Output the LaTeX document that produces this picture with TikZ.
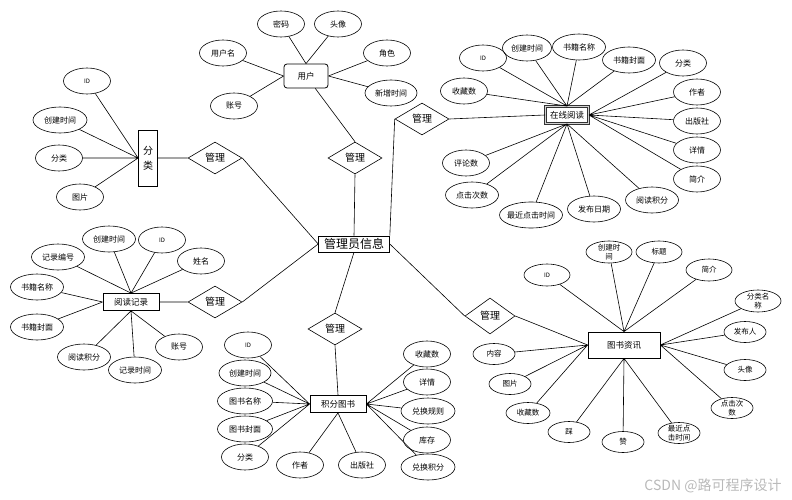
\documentclass[tikz,border=0pt]{standalone}
\usepackage{fontspec}
\setmainfont{Noto Sans CJK SC}
\usetikzlibrary{shapes.geometric}

\tikzset{attribut/.style={draw,ellipse,minimum width=47pt,minimum height=26pt,inner xsep=-4pt,inner ysep=0pt,align=center,font=\fontsize{8}{9}\selectfont},
large/.style={minimum width=53pt},
petit/.style={attribut,minimum width=46pt,minimum height=22pt,inner ysep=-2pt,font=\fontsize{7.5}{8.5}\selectfont},
mini/.style={petit,minimum width=42pt,minimum height=21pt},
ident/.style={font=\fontsize{6}{7}\selectfont},
entite/.style={draw,thick,minimum width=56pt,minimum height=17pt,inner sep=1pt,font=\fontsize{8.5}{9}\selectfont},
relation/.style={draw,diamond,aspect=1.7,minimum width=54pt,minimum height=32pt,inner sep=0pt,font=\fontsize{10}{11}\selectfont}}

\begin{document}
\begin{tikzpicture}[x=1pt,y=-1pt,line width=0.6pt]
\useasboundingbox (0,0) rectangle (792,500);
\node [draw,minimum width=71pt,minimum height=16pt,inner sep=0pt,font=\fontsize{12}{13}\selectfont] (admin) at (354,244) {管理员信息};

% utilisateur
\node [entite,rounded corners=3pt,minimum width=44pt,minimum height=24pt] (user) at (306,76) {用户};
\node [attribut] (uMdp) at (281,24) {密码};
\node [attribut] (uTete) at (338,24) {头像};
\node [attribut] (uNom) at (223,53) {用户名};
\node [attribut] (uRole) at (387,53) {角色};
\node [attribut,minimum width=52pt] (uDate) at (391,93) {新增时间};
\node [attribut] (uCompte) at (234,106) {账号};
\node [relation] (gUser) at (355,158) {管理};
\draw (uMdp) -- (user.north) (uTete) -- (user.north)
	(uNom) -- (user.west) (uCompte) -- (user.west)
	(uRole) -- (user.east) (uDate) -- (user.east);
\draw (user) -- (gUser.north) (gUser.south) -- (admin.north);

% lecture en ligne
\node [entite,draw=black!80,double=gray!35,double distance=0.8pt,minimum width=43pt] (lire) at (567,115) {在线阅读};
\node [attribut,ident] (lId) at (483,58) {ID};
\node [attribut,minimum width=49pt] (lCree) at (527,48) {创建时间};
\node [attribut,large] (lNom) at (579,47) {书籍名称};
\node [attribut,large] (lCouv) at (629,60) {书籍封面};
\node [attribut] (lCat) at (683,63) {分类};
\node [attribut] (lAuteur) at (697,92) {作者};
\node [attribut] (lEditeur) at (697,121) {出版社};
\node [attribut] (lDetail) at (697,150) {详情};
\node [attribut] (lIntro) at (697,179) {简介};
\node [attribut,large] (lPoints) at (652,200) {阅读积分};
\node [attribut,large] (lDate) at (594,209) {发布日期};
\node [attribut,minimum width=63pt] (lClic) at (531,215) {最近点击时间};
\node [attribut,large] (lNbClic) at (472,195) {点击次数};
\node [attribut] (lAvis) at (466,163) {评论数};
\node [attribut] (lFav) at (464,91) {收藏数};
\node [relation] (gLire) at (422,119) {管理};
\draw (lId) -- (lire.north) (lCree) -- (lire.north) (lNom) -- (lire.north)
	(lCouv) -- (lire.north) (lFav) -- (lire.north);
\draw (lCat) -- (lire.east) (lAuteur) -- (lire.east) (lEditeur) -- (lire.east)
	(lDetail) -- (lire.east) (lIntro) -- (lire.east);
\draw (lPoints) -- (lire.south) (lDate) -- (lire.south) (lClic) -- (lire.south)
	(lNbClic) -- (lire.south) (lAvis) -- (lire.south);
\draw (admin.north east) -- (gLire.west) (gLire.east) -- (lire.west);

% classement
\node [entite,minimum width=19pt,minimum height=56pt,inner sep=0pt,align=center,font=\fontsize{10}{15}\selectfont] (cat) at (148,158) {分\\类};
\node [attribut,ident] (cId) at (87,81) {ID};
\node [attribut,minimum width=54pt] (cCree) at (60,120) {创建时间};
\node [attribut] (cNom) at (59,158) {分类};
\node [attribut] (cImage) at (80,197) {图片};
\node [relation] (gCat) at (215,158) {管理};
\draw (cId) -- (cat.west) (cCree) -- (cat.west) (cNom) -- (cat.west) (cImage) -- (cat.west);
\draw (cat.east) -- (gCat.west) (gCat.east) -- (admin.west);

% releve de lecture
\node [entite] (rec) at (131,302) {阅读记录};
\node [attribut,large] (rNum) at (58,257) {记录编号};
\node [attribut,large] (rCree) at (109,239) {创建时间};
\node [attribut,ident] (rId) at (162,240) {ID};
\node [attribut] (rNom) at (201,261) {姓名};
\node [attribut,large] (rLivre) at (37,287) {书籍名称};
\node [attribut,large] (rCouv) at (37,327) {书籍封面};
\node [attribut,large] (rPoints) at (84,357) {阅读积分};
\node [attribut,large] (rDate) at (135,370) {记录时间};
\node [attribut] (rCompte) at (179,347) {账号};
\node [relation] (gRec) at (215,302) {管理};
\draw (rNum) -- (rec.north) (rCree) -- (rec.north) (rId) -- (rec.north) (rNom) -- (rec.north);
\draw (rLivre) -- (rec.west) (rCouv) -- (rec.west);
\draw (rPoints) -- (rec.south) (rDate) -- (rec.south) (rCompte) -- (rec.south);
\draw (rec.east) -- (gRec.west) (gRec.east) -- (admin.west);

% livres a points
\node [entite] (pts) at (338,404) {积分图书};
\node [attribut,ident] (pId) at (248,345) {ID};
\node [attribut,minimum width=52pt] (pCree) at (245,373) {创建时间};
\node [attribut,minimum width=55pt] (pNom) at (245,401) {图书名称};
\node [attribut,minimum width=55pt] (pCouv) at (245,429) {图书封面};
\node [attribut] (pCat) at (245,457) {分类};
\node [attribut] (pAuteur) at (300,465) {作者};
\node [attribut] (pEditeur) at (362,465) {出版社};
\node [attribut] (pFav) at (427,354) {收藏数};
\node [attribut] (pDetail) at (427,382) {详情};
\node [attribut,minimum width=54pt] (pRegle) at (428,411) {兑换规则};
\node [attribut] (pStock) at (427,440) {库存};
\node [attribut,minimum width=54pt] (pPoints) at (428,467) {兑换积分};
\node [relation] (gPts) at (335,329) {管理};
\draw (pId) -- (pts.west) (pCree) -- (pts.west) (pNom) -- (pts.west)
	(pCouv) -- (pts.west) (pCat) -- (pts.west);
\draw (pAuteur) -- (pts.south) (pEditeur) -- (pts.south);
\draw (pFav) -- (pts.east) (pDetail) -- (pts.east) (pRegle) -- (pts.east)
	(pStock) -- (pts.east) (pPoints) -- (pts.east);
\draw (admin.south) -- (gPts.north) (gPts.south) -- (pts.north);

% informations sur les livres
\node [entite,minimum width=72pt,minimum height=26pt] (info) at (624,345) {图书资讯};
\node [petit,ident] (iId) at (547,275) {ID};
\node [petit] (iCree) at (609,252) {创建时\\间};
\node [petit] (iTitre) at (659,252) {标题};
\node [petit] (iIntro) at (709,270) {简介};
\node [petit] (iCat) at (758,301) {分类名\\称};
\node [mini] (iAuteur) at (745,332) {发布人};
\node [mini] (iTete) at (745,370) {头像};
\node [mini] (iNbClic) at (732,408) {点击次\\数};
\node [mini] (iClic) at (679,433) {最近点\\击时间};
\node [mini] (iPour) at (623,442) {赞};
\node [mini] (iContre) at (569,432) {踩};
\node [mini,minimum width=44pt] (iFav) at (528,413) {收藏数};
\node [mini] (iImage) at (510,384) {图片};
\node [mini] (iTexte) at (494,354) {内容};
\node [relation,minimum width=50pt,minimum height=36pt] (gInfo) at (490,316) {管理};
\draw (iId) -- (info.north) (iCree) -- (info.north) (iTitre) -- (info.north) (iIntro) -- (info.north);
\draw (iCat) -- (info.east) (iAuteur) -- (info.east) (iTete) -- (info.east) (iNbClic) -- (info.east);
\draw (iClic) -- (info.south) (iPour) -- (info.south) (iContre) -- (info.south);
\draw (iFav) -- (info.west) (iImage) -- (info.west) (iTexte) -- (info.west);
\draw (admin.east) -- (gInfo.west) (gInfo.east) -- (info.west);

\node [text=gray!55,font=\fontsize{14}{15}\selectfont] (marque) at (713,486) {CSDN @路可程序设计};
\end{tikzpicture}
\end{document}
